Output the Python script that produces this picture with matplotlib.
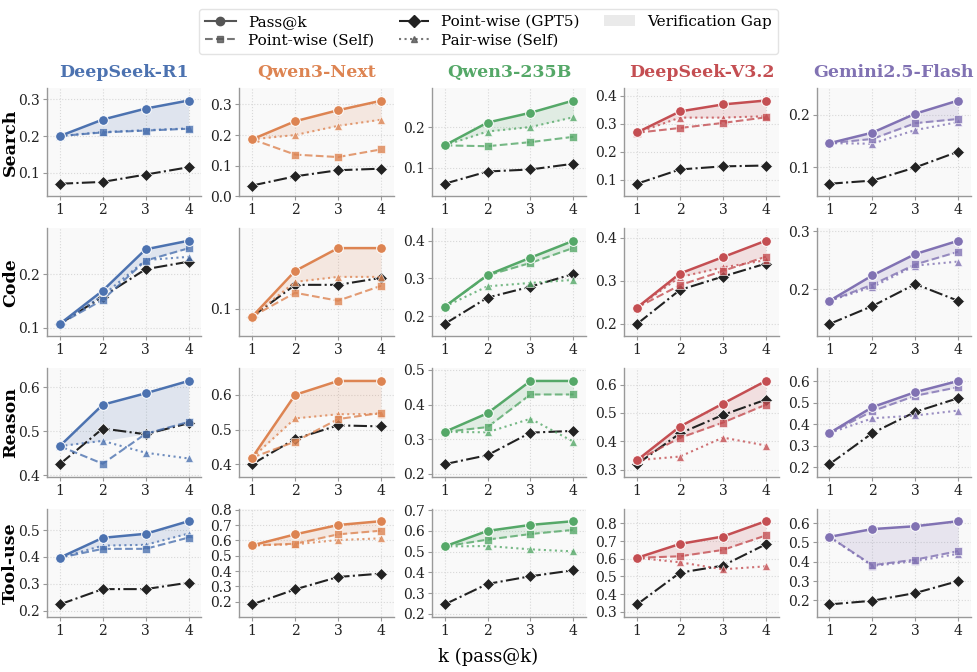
import numpy as np
import matplotlib
matplotlib.use("Agg")
import matplotlib.pyplot as plt
from matplotlib.ticker import MultipleLocator
from matplotlib.lines import Line2D
from matplotlib.patches import Patch

plt.rcParams['font.family'] = ['DejaVu Serif']

k = [1, 2, 3, 4]
models = ["DeepSeek-R1", "Qwen3-Next", "Qwen3-235B", "DeepSeek-V3.2", "Gemini2.5-Flash"]
tasks = ["Search", "Code", "Reason", "Tool-use"]
colors = ["#4C72B0", "#DD8452", "#55A868", "#C44E52", "#8172B3"]

# pass@k  [task][model]
pass_k = [
    [[0.200, 0.245, 0.275, 0.297], [0.186, 0.245, 0.281, 0.312], [0.155, 0.211, 0.235, 0.265],
     [0.269, 0.344, 0.369, 0.383], [0.146, 0.166, 0.202, 0.227]],
    [[0.107, 0.169, 0.246, 0.262], [0.092, 0.138, 0.161, 0.161], [0.225, 0.309, 0.355, 0.400],
     [0.238, 0.317, 0.355, 0.393], [0.180, 0.224, 0.261, 0.284]],
    [[0.466, 0.560, 0.586, 0.614], [0.419, 0.600, 0.640, 0.640], [0.321, 0.375, 0.468, 0.468],
     [0.333, 0.452, 0.533, 0.613], [0.359, 0.480, 0.550, 0.602]],
    [[0.397, 0.471, 0.486, 0.533], [0.568, 0.640, 0.701, 0.726], [0.525, 0.600, 0.629, 0.647],
     [0.605, 0.684, 0.726, 0.813], [0.529, 0.569, 0.584, 0.610]],
]
point_self = [
    [[0.200, 0.210, 0.215, 0.220], [0.186, 0.136, 0.128, 0.153], [0.155, 0.153, 0.163, 0.176],
     [0.268, 0.285, 0.303, 0.323], [0.146, 0.154, 0.184, 0.192]],
    [[0.107, 0.152, 0.225, 0.248], [0.092, 0.116, 0.108, 0.123], [0.225, 0.308, 0.341, 0.381],
     [0.238, 0.290, 0.323, 0.356], [0.180, 0.208, 0.243, 0.265]],
    [[0.466, 0.426, 0.494, 0.521], [0.419, 0.465, 0.530, 0.548], [0.321, 0.335, 0.429, 0.429],
     [0.333, 0.412, 0.466, 0.529], [0.359, 0.461, 0.533, 0.573]],
    [[0.397, 0.430, 0.430, 0.472], [0.568, 0.579, 0.640, 0.664], [0.525, 0.558, 0.585, 0.605],
     [0.605, 0.614, 0.650, 0.732], [0.529, 0.382, 0.411, 0.455]],
]
pair_self = [
    [[0.200, 0.211, 0.216, 0.221], [0.186, 0.200, 0.230, 0.250], [0.155, 0.189, 0.200, 0.224],
     [0.268, 0.322, 0.322, 0.327], [0.146, 0.145, 0.171, 0.186]],
    [[0.107, 0.160, 0.226, 0.232], [0.092, 0.127, 0.132, 0.132], [0.225, 0.279, 0.288, 0.296],
     [0.238, 0.309, 0.331, 0.348], [0.180, 0.204, 0.241, 0.248]],
    [[0.466, 0.478, 0.451, 0.438], [0.419, 0.532, 0.544, 0.545], [0.321, 0.320, 0.359, 0.293],
     [0.333, 0.346, 0.413, 0.385], [0.359, 0.428, 0.441, 0.464]],
    [[0.397, 0.442, 0.445, 0.487], [0.568, 0.575, 0.603, 0.614], [0.525, 0.527, 0.511, 0.501],
     [0.605, 0.580, 0.540, 0.557], [0.529, 0.378, 0.403, 0.441]],
]
point_gpt5 = [
    [[0.070, 0.075, 0.095, 0.115], [0.035, 0.065, 0.085, 0.090], [0.061, 0.091, 0.096, 0.110],
     [0.086, 0.137, 0.148, 0.151], [0.069, 0.075, 0.100, 0.130]],
    [[0.107, 0.158, 0.209, 0.223], [0.092, 0.124, 0.124, 0.131], [0.179, 0.249, 0.278, 0.312],
     [0.200, 0.279, 0.310, 0.340], [0.140, 0.171, 0.209, 0.180]],
    [[0.425, 0.506, 0.493, 0.518], [0.400, 0.473, 0.512, 0.509], [0.228, 0.254, 0.319, 0.324],
     [0.319, 0.428, 0.493, 0.547], [0.214, 0.359, 0.458, 0.522]],
    [[0.223, 0.280, 0.280, 0.304], [0.183, 0.281, 0.362, 0.384], [0.245, 0.344, 0.381, 0.410],
     [0.341, 0.521, 0.561, 0.682], [0.179, 0.198, 0.238, 0.300]],
]

fig = plt.figure(figsize=(9.77, 6.72), dpi=100)
gs = fig.add_gridspec(4, 5, left=0.048, right=0.994, top=0.869, bottom=0.082,
                      wspace=0.245, hspace=0.296)

for r, task in enumerate(tasks):
    for c, model in enumerate(models):
        ax = fig.add_subplot(gs[r, c])
        col = colors[c]
        p = np.array(pass_k[r][c]); ps = np.array(point_self[r][c])
        pr = np.array(pair_self[r][c]); g = np.array(point_gpt5[r][c])
        ax.set_facecolor("#f9f9f9")
        ax.grid(True, linestyle=':', color='#d8d8d8', linewidth=0.8)
        ax.set_axisbelow(True)
        best_self = np.maximum(ps, pr)
        ax.fill_between(k, best_self, p, color=col, alpha=0.15, linewidth=0, zorder=1)
        ax.plot(k, g, color='#222222', linestyle='-.', marker='D', markersize=6.5,
                markeredgecolor='white', markeredgewidth=0.5, linewidth=1.5, zorder=3)
        ax.plot(k, pr, color=col, linestyle=':', marker='^', markersize=5.5, alpha=0.8,
                markeredgecolor='white', markeredgewidth=0.5, linewidth=1.5, zorder=4)
        ax.plot(k, ps, color=col, linestyle='--', marker='s', markersize=6, alpha=0.8,
                markeredgecolor='white', markeredgewidth=0.5, linewidth=1.5, zorder=4)
        ax.plot(k, p, color=col, linestyle='-', marker='o', markersize=7,
                markeredgecolor='white', markeredgewidth=0.7, linewidth=1.8, zorder=5)
        allv = np.concatenate([p, ps, pr, g])
        lo, hi = allv.min(), allv.max()
        m = max(0.15 * (hi - lo), 0.02)
        ax.set_ylim(max(0.0, lo - m), hi + m)
        ax.set_xlim(0.7, 4.3)
        ax.set_xticks(k)
        ax.yaxis.set_major_locator(MultipleLocator(0.1))
        ax.yaxis.set_major_formatter(plt.FormatStrFormatter('%.1f'))
        for s in ['top', 'right']:
            ax.spines[s].set_visible(False)
        for s in ['left', 'bottom']:
            ax.spines[s].set_color('#999999')
            ax.spines[s].set_linewidth(1.0)
        ax.tick_params(axis='both', labelsize=10, length=3, color='#999999', pad=2,
                       labelcolor='#222222')
        if r == 0:
            ax.set_title(model, color=col, fontsize=12.5, fontweight='bold', pad=8)
        if c == 0:
            ax.set_ylabel(task, fontsize=12.5, fontweight='bold')
            ax.yaxis.set_label_coords(-0.18, 0.5)

fig.text(0.5, 0.022, "k (pass@k)", ha='center', va='center', fontsize=13)

handles = [
    Line2D([], [], color='#555555', linestyle='-', marker='o', markersize=6, linewidth=1.5),
    Line2D([], [], color='#555555', linestyle='--', marker='s', markersize=5, alpha=0.8, linewidth=1.5),
    Line2D([], [], color='#222222', linestyle='-.', marker='D', markersize=6, linewidth=1.5),
    Line2D([], [], color='#555555', linestyle=':', marker='^', markersize=4.5, alpha=0.8, linewidth=1.5),
    Patch(facecolor='#dddddd', alpha=0.6, edgecolor='none'),
]
labels = ["Pass@k", "Point-wise (Self)", "Point-wise (GPT5)", "Pair-wise (Self)", "Verification Gap"]
fig.legend(handles, labels, loc='upper center', bbox_to_anchor=(0.5, 0.998), ncol=3,
           fontsize=11, frameon=True, edgecolor='#dddddd', handlelength=2.0,
           columnspacing=1.6, labelspacing=0.3, borderpad=0.4)

fig.savefig("out.png", dpi=100)
